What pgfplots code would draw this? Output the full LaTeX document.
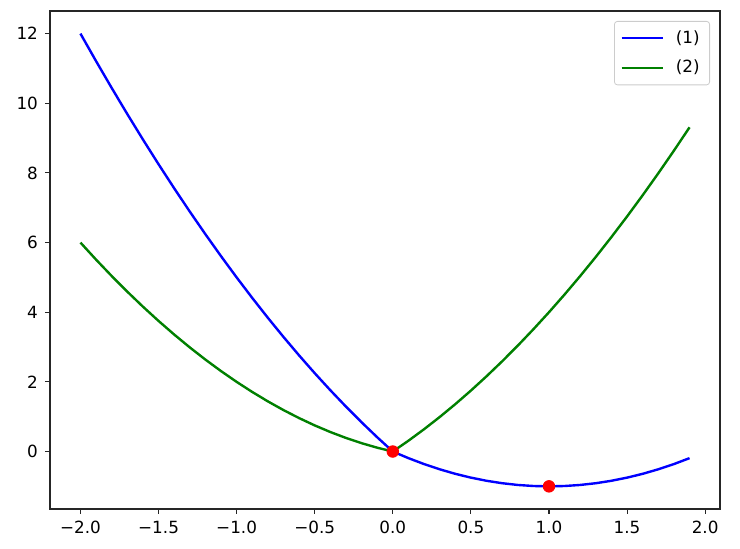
\documentclass[border=0pt]{standalone}
\usepackage{pgfplots}
\pgfplotsset{compat=1.18}
\usepackage{fontspec}
\setmainfont{DejaVu Sans}

\pgfplotstableread{
x blue green
-2.0 12.00 6.00
-1.9 11.21 5.51
-1.8 10.44 5.04
-1.7 9.69 4.59
-1.6 8.96 4.16
-1.5 8.25 3.75
-1.4 7.56 3.36
-1.3 6.89 2.99
-1.2 6.24 2.64
-1.1 5.61 2.31
-1.0 5.00 2.00
-0.9 4.41 1.71
-0.8 3.84 1.44
-0.7 3.29 1.19
-0.6 2.76 0.96
-0.5 2.25 0.75
-0.4 1.76 0.56
-0.3 1.29 0.39
-0.2 0.84 0.24
-0.1 0.41 0.11
0.0 0.00 0.00
0.1 -0.19 0.31
0.2 -0.36 0.64
0.3 -0.51 0.99
0.4 -0.64 1.36
0.5 -0.75 1.75
0.6 -0.84 2.16
0.7 -0.91 2.59
0.8 -0.96 3.04
0.9 -0.99 3.51
1.0 -1.00 4.00
1.1 -0.99 4.51
1.2 -0.96 5.04
1.3 -0.91 5.59
1.4 -0.84 6.16
1.5 -0.75 6.75
1.6 -0.64 7.36
1.7 -0.51 7.99
1.8 -0.36 8.64
1.9 -0.19 9.31
}\curves

\definecolor{mplgreen}{rgb}{0,0.5,0}

\begin{document}
\begin{tikzpicture}
\begin{axis}[
    scale only axis, width=335pt, height=249pt,
    xmin=-2.195, xmax=2.095, ymin=-1.65, ymax=12.65,
    axis line style={line width=0.55pt, black!85},
    xtick={-2,-1.5,-1,-0.5,0,0.5,1,1.5,2},
    xticklabels={−2.0,−1.5,−1.0,−0.5,0.0,0.5,1.0,1.5,2.0},
    ytick={0,2,4,6,8,10,12},
    tick align=outside, tick pos=left,
    major tick length=2.5pt,
    tick style={line width=0.55pt, black!85},
    tick label style={font=\fontsize{8.4}{9}\selectfont},
    /pgf/number format/assume math mode=true,
    legend cell align=left,
    legend style={at={(rel axis cs:1,1)}, xshift=-5pt, yshift=-5pt, anchor=north east,
        draw=black!20, rounded corners=1.5pt, font=\fontsize{8.4}{9}\selectfont,
        inner xsep=3pt, inner ysep=2.5pt, row sep=3pt},
    legend image post style={xscale=1.2},
]
\addplot[only marks, mark=*, mark size=2.9pt, red, forget plot] coordinates {(0,0) (1,-1)};
\addplot[blue, line width=1.2pt] table[x=x, y=blue] {\curves};
\addlegendentry{\hspace{4pt}(1)}
\addplot[mplgreen, line width=1.2pt] table[x=x, y=green] {\curves};
\addlegendentry{\hspace{4pt}(2)}
\end{axis}
\pgfresetboundingbox
\path (current axis.south west) ++(-25pt,-20pt) rectangle ([xshift=10pt,yshift=5.5pt]current axis.north east);
\end{tikzpicture}
\end{document}
